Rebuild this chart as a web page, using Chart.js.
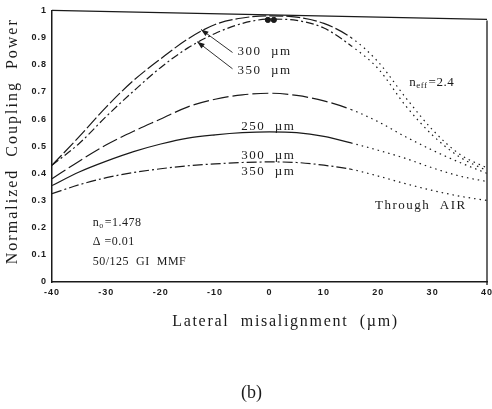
<!DOCTYPE html>
<html>
<head>
<meta charset="utf-8">
<script src="https://cdn.jsdelivr.net/npm/chart.js@4"></script>
<style>
  html, body { margin: 0; padding: 0; background: #fff; }
  #c { display: block; }
</style>
</head>
<body>
<canvas id="c" width="492" height="409"></canvas>
<script>
// lateral offset (µm)
const xs = [-40, -35, -30, -25, -20, -15, -10, -5, 0, 5, 10, 15, 20, 25, 30, 35, 40];

// n_eff = 2.4 curves
const eff300 = [0.43, 0.535, 0.645, 0.742, 0.822, 0.895, 0.948, 0.972, 0.98, 0.975, 0.952, 0.90, 0.81, 0.68, 0.56, 0.47, 0.42];
const eff350 = [0.43, 0.51, 0.61, 0.703, 0.79, 0.862, 0.915, 0.952, 0.968, 0.963, 0.935, 0.87, 0.785, 0.65, 0.54, 0.46, 0.41];

// through air curves
const air250 = [0.38, 0.445, 0.505, 0.555, 0.60, 0.645, 0.673, 0.689, 0.695, 0.687, 0.667, 0.635, 0.59, 0.535, 0.485, 0.44, 0.40];
const air300 = [0.355, 0.405, 0.445, 0.48, 0.508, 0.53, 0.542, 0.55, 0.553, 0.55, 0.536, 0.512, 0.485, 0.455, 0.42, 0.39, 0.37];
const air350 = [0.325, 0.358, 0.384, 0.403, 0.417, 0.428, 0.435, 0.44, 0.442, 0.44, 0.43, 0.415, 0.39, 0.362, 0.337, 0.316, 0.30];

// measured dots near the peak
const dotX = [-0.3, 0.8];
const dotY = [0.965, 0.965];

const xTicks = [-40, -30, -20, -10, 0, 10, 20, 30, 40];

const ink = '#1a1a1a';
const toPts = (vals) => xs.map((x, i) => ({x: x, y: vals[i]}));
const dotted = (dash) => ({
  borderDash: ctx => ctx.p0.parsed.x >= 15 ? [1.5, 4] : dash
});

function curve(label, vals, dash) {
  return {
    label: label,
    data: toPts(vals),
    borderColor: ink,
    borderWidth: 1.2,
    borderDash: dash,
    pointRadius: 0,
    fill: false,
    cubicInterpolationMode: 'monotone',
    segment: dotted(dash)
  };
}

function arrow(ctx, x1, y1, x2, y2) {
  ctx.beginPath();
  ctx.moveTo(x1, y1);
  ctx.lineTo(x2, y2);
  ctx.stroke();
  const a = Math.atan2(y2 - y1, x2 - x1);
  ctx.beginPath();
  ctx.moveTo(x2, y2);
  ctx.lineTo(x2 - 8 * Math.cos(a - 0.35), y2 - 8 * Math.sin(a - 0.35));
  ctx.lineTo(x2 - 8 * Math.cos(a + 0.35), y2 - 8 * Math.sin(a + 0.35));
  ctx.closePath();
  ctx.fill();
}

// n + subscript + rest
function subText(ctx, base, sub, rest, x, y, size) {
  ctx.font = size + 'px "Liberation Serif"';
  ctx.fillText(base, x, y);
  let w = ctx.measureText(base).width;
  ctx.font = Math.round(size * 0.7) + 'px "Liberation Serif"';
  ctx.fillText(sub, x + w, y + 3);
  w += ctx.measureText(sub).width;
  ctx.font = size + 'px "Liberation Serif"';
  ctx.fillText(rest, x + w + 1, y);
}

const notes = {
  id: 'notes',
  beforeDraw(chart) {
    chart.ctx.letterSpacing = '1px';
  },
  afterDraw(chart) {
    const {ctx, chartArea: a, scales: {x, y}} = chart;
    const px = v => x.getPixelForValue(v);
    const py = v => y.getPixelForValue(v);
    ctx.save();
    ctx.strokeStyle = ink;
    ctx.fillStyle = ink;

    // top and right frame
    ctx.lineWidth = 1.3;
    ctx.beginPath();
    ctx.moveTo(a.left, a.top);
    ctx.lineTo(a.right, a.top + 9);
    ctx.stroke();
    ctx.beginPath();
    ctx.moveTo(a.right, a.top + 10);
    ctx.lineTo(a.right, a.bottom + 3);
    ctx.stroke();

    // axis titles
    ctx.letterSpacing = '2px';
    ctx.font = '16px "Liberation Serif"';
    ctx.textAlign = 'center';
    ctx.textBaseline = 'middle';
    ctx.save();
    ctx.translate(13, (a.top + a.bottom) / 2 - 5);
    ctx.rotate(-Math.PI / 2);
    ctx.fillText('Normalized  Coupling  Power', 0, 0);
    ctx.restore();
    ctx.letterSpacing = '1.7px';
    ctx.fillText('Lateral  misalignment  (\u00b5m)', (a.left + a.right) / 2 + 16, a.bottom + 40);
    ctx.letterSpacing = '0px';
    ctx.font = '18px "Liberation Serif"';
    ctx.fillText('(b)', (a.left + a.right) / 2 - 18, a.bottom + 111);

    // curve labels
    ctx.textAlign = 'left';
    ctx.letterSpacing = '1.5px';
    ctx.font = '13px "Liberation Serif"';
    ctx.fillText('300  \u00b5m', px(-5.9), py(0.849));
    ctx.fillText('350  \u00b5m', px(-5.9), py(0.779));
    ctx.fillText('250  \u00b5m', px(-5.2), py(0.574));
    ctx.fillText('300  \u00b5m', px(-5.2), py(0.467));
    ctx.fillText('350  \u00b5m', px(-5.2), py(0.408));
    ctx.fillText('Through  AIR', px(19.4), py(0.283));

    ctx.letterSpacing = '0.5px';
    subText(ctx, 'n', 'eff', '=2.4', px(25.7), py(0.735), 13);
    subText(ctx, 'n', 'o', '=1.478', px(-32.5), py(0.217), 12);
    ctx.font = '12px "Liberation Serif"';
    ctx.fillText('\u0394 =0.01', px(-32.5), py(0.147));
    ctx.fillText('50/125  GI  MMF', px(-32.5), py(0.074));

    // arrows to the n_eff curves
    ctx.lineWidth = 0.9;
    arrow(ctx, px(-6.8), py(0.845), px(-12.6), py(0.93));
    arrow(ctx, px(-6.8), py(0.785), px(-13.3), py(0.885));

    ctx.restore();
  }
};

new Chart('c', {
  type: 'line',
  data: {
    datasets: [
      curve('n_eff=2.4, 300 µm', eff300, [14, 3]),
      curve('n_eff=2.4, 350 µm', eff350, [8, 3, 2, 3]),
      curve('Air, 250 µm', air250, [16, 4]),
      curve('Air, 300 µm', air300, []),
      curve('Air, 350 µm', air350, [10, 3, 2, 3]),
      {
        type: 'scatter',
        label: 'measured',
        data: dotX.map((x, i) => ({x: x, y: dotY[i]})),
        backgroundColor: ink,
        borderColor: ink,
        pointRadius: 2.6,
        showLine: false
      }
    ]
  },
  options: {
    responsive: false,
    animation: false,
    layout: {padding: {top: 10, right: 4, left: 0, bottom: 0}},
    plugins: {legend: {display: false}, tooltip: {enabled: false}},
    scales: {
      x: {
        type: 'linear',
        min: -40,
        max: 40,
        afterBuildTicks: s => { s.ticks = xTicks.map(v => ({value: v})); },
        ticks: {
          color: ink,
          padding: 5,
          font: {family: '"Liberation Sans"', size: 9, weight: 'bold'}
        },
        grid: {display: true, drawOnChartArea: false, drawTicks: false},
        border: {color: ink, width: 1.5},
        afterFit: s => { s.height = 127; s.paddingLeft = 0; s.paddingRight = 0; }
      },
      y: {
        min: 0,
        max: 1,
        ticks: {
          stepSize: 0.1,
          color: ink,
          padding: 5,
          font: {family: '"Liberation Sans"', size: 9, weight: 'bold'},
          callback: v => v < 0.001 ? '0' : (v > 0.999 ? '1' : v.toFixed(1))
        },
        grid: {display: true, drawOnChartArea: false, drawTicks: false},
        border: {color: ink, width: 1.5},
        afterFit: s => { s.width = 52; }
      }
    }
  },
  plugins: [notes]
});
</script>
</body>
</html>
